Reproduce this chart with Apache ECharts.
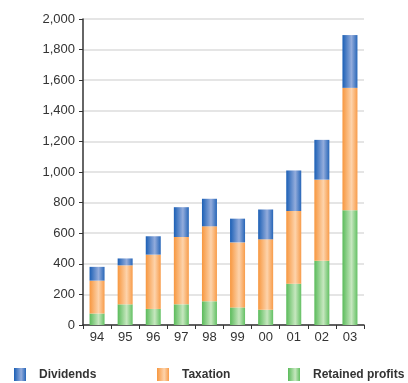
<!DOCTYPE html>
<html>
<head>
<meta charset="utf-8">
<script src="https://cdn.jsdelivr.net/npm/echarts@6/dist/echarts.min.js"></script>
<style>
  html, body { margin: 0; padding: 0; background: #fff; }
  #chart { width: 408px; height: 383px; }
</style>
</head>
<body>
<div id="chart"></div>
<script>
// Profit distribution by year, stacked
const years = ['94', '95', '96', '97', '98', '99', '00', '01', '02', '03'];
const retainedProfits = [75, 135, 105, 135, 155, 115, 100, 270, 420, 750];
const taxation = [215, 255, 355, 440, 490, 425, 460, 475, 530, 800];
const dividends = [90, 45, 120, 195, 180, 155, 195, 265, 260, 345];
const yTicks = [0, 200, 400, 600, 800, 1000, 1200, 1400, 1600, 1800, 2000];

// Cylinder-like horizontal shading for each bar
function shade(edge, light, edge2) {
  return new echarts.graphic.LinearGradient(0, 0, 1, 0, [
    { offset: 0, color: edge },
    { offset: 0.6, color: light },
    { offset: 1, color: edge2 }
  ]);
}
const blueFill = shade('#1b5fb5', '#93acdc', '#2766b8');
const orangeFill = shade('#f7973f', '#fdd3ab', '#f89c4a');
const greenFill = shade('#5abb5a', '#c6e7bf', '#63c063');

const chart = echarts.init(document.getElementById('chart'), null, { renderer: 'canvas' });

const seriesDefs = [
  { name: 'Retained profits', data: retainedProfits, fill: greenFill },
  { name: 'Taxation', data: taxation, fill: orangeFill },
  { name: 'Dividends', data: dividends, fill: blueFill }
];

const legendFont = { fontFamily: 'Liberation Sans, Arial, sans-serif', fontSize: 12, fontWeight: 'bold', color: '#333', padding: [0, 0, 0, 8] };
function legendAt(name, left) {
  return {
    data: [name],
    left: left,
    top: 368,
    padding: 0,
    itemWidth: 12,
    itemHeight: 13,
    icon: 'rect',
    textStyle: legendFont
  };
}

chart.setOption({
  animation: false,
  backgroundColor: '#ffffff',
  grid: { left: 83, right: 44, top: 19, bottom: 58, containLabel: false },
  legend: [
    legendAt('Dividends', 14),
    legendAt('Taxation', 157),
    legendAt('Retained profits', 288)
  ],
  xAxis: {
    type: 'category',
    data: years,
    axisLine: { lineStyle: { color: '#333', width: 1.5 } },
    axisTick: { show: true, alignWithLabel: false, length: 4, lineStyle: { color: '#333' } },
    axisLabel: { fontFamily: 'Liberation Sans, Arial, sans-serif', fontSize: 13, color: '#333', margin: 6 }
  },
  yAxis: {
    type: 'value',
    min: yTicks[0],
    max: yTicks[yTicks.length - 1],
    interval: 200,
    axisLine: { show: true, lineStyle: { color: '#333', width: 1.5 } },
    axisTick: { show: true, length: 4, lineStyle: { color: '#333' } },
    splitLine: { lineStyle: { color: '#dcdcdc', width: 1.5 } },
    axisLabel: {
      fontFamily: 'Liberation Sans, Arial, sans-serif', fontSize: 13, color: '#333', margin: 8,
      formatter: v => v.toLocaleString('en-US')
    }
  },
  series: seriesDefs.map(s => ({
    name: s.name,
    type: 'bar',
    stack: 'total',
    barWidth: 15,
    data: s.data,
    itemStyle: { color: s.fill }
  }))
});
</script>
</body>
</html>
